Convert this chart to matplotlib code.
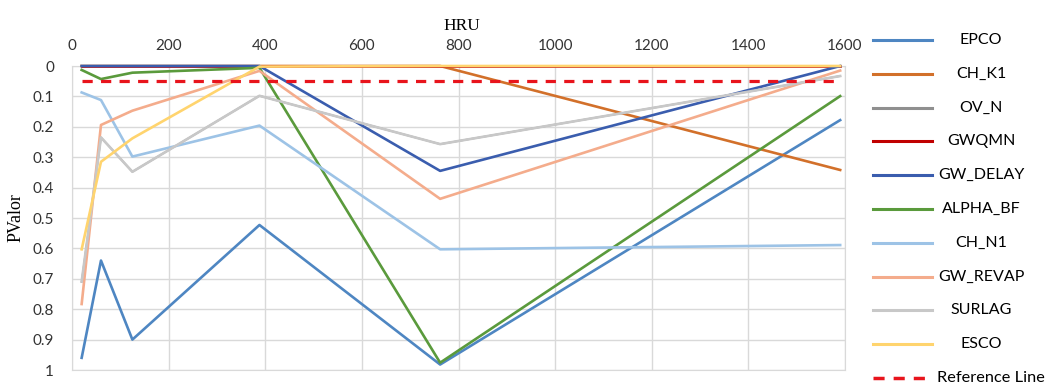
import matplotlib
matplotlib.use("Agg")
import matplotlib.pyplot as plt
from matplotlib.lines import Line2D

# HRU values on the x axis
hru = [20, 60, 125, 388, 762, 1590]

names = ["EPCO", "CH_K1", "OV_N", "GWQMN", "GW_DELAY", "ALPHA_BF",
         "CH_N1", "GW_REVAP", "SURLAG", "ESCO"]

epco = [0.96, 0.64, 0.90, 0.523, 0.982, 0.178]
ch_k1 = [0.0, 0.0, 0.0, 0.0, 0.0, 0.342]
ov_n = [0.71, 0.235, 0.348, 0.098, 0.257, 0.033]
gwqmn = [0.0, 0.0, 0.0, 0.0, 0.0, 0.0]
gw_delay = [0.0, 0.0, 0.0, 0.0, 0.345, 0.0]
alpha_bf = [0.013, 0.043, 0.022, 0.006, 0.976, 0.099]
ch_n1 = [0.087, 0.112, 0.298, 0.196, 0.603, 0.589]
gw_revap = [0.783, 0.194, 0.147, 0.016, 0.437, 0.015]
surlag = [0.709, 0.235, 0.348, 0.098, 0.257, 0.033]
esco = [0.603, 0.315, 0.238, 0.002, 0.0, 0.0]
ref_line = [0.05, 0.05, 0.05, 0.05, 0.05, 0.05]

series = [epco, ch_k1, ov_n, gwqmn, gw_delay, alpha_bf, ch_n1, gw_revap, surlag, esco]
colors = ["#4E86C2", "#D2702A", "#8F8F8F", "#C00000", "#3A5DAE", "#5A9A3C",
          "#9DC3E6", "#F4AC8C", "#C8C8C8", "#FFD46E"]
widths = [1.9, 1.9, 1.3, 1.9, 1.9, 1.9, 1.9, 1.9, 1.9, 1.9]

fig = plt.figure(figsize=(10.5, 3.88), dpi=100)
ax = fig.add_axes([72 / 1050, 1 - 370 / 388, 773 / 1050, 304 / 388])

for vals, c, w in zip(series, colors, widths):
    ax.plot(hru, vals, color=c, lw=w, clip_on=False, zorder=3)
ax.plot(hru, ref_line, color="#E8141C", lw=2.3, dashes=(3.2, 2.6), zorder=4)

ax.set_xlim(0, 1600)
ax.set_ylim(1, 0)
ax.set_xticks(range(0, 1601, 200))
yt = [i / 10 for i in range(11)]
ax.set_yticks(yt)
ax.set_yticklabels(["0"] + [f"{v:.1f}" for v in yt[1:-1]] + ["1"])

ax.xaxis.tick_top()
ax.xaxis.set_label_position("top")
ax.tick_params(length=0, labelsize=11, labelcolor="#333333")
ax.tick_params(axis="x", pad=9)
ax.tick_params(axis="y", pad=13)
for t in ax.get_xticklabels() + ax.get_yticklabels():
    t.set_family("Lato")

ax.grid(True, color="#D9D9D9", lw=1)
for s in ax.spines.values():
    s.set_color("#D9D9D9")
ax.set_axisbelow(True)

ax.set_xlabel("HRU", family="Liberation Serif", fontsize=12.5)
ax.xaxis.set_label_coords(0.505, 1.118)
ax.set_ylabel("PValor", family="Liberation Serif", fontsize=13)
ax.yaxis.set_label_coords(-0.062, 0.5)

# legend drawn at the right like the original
y0 = 40
step = 33.8
for i, (n, c) in enumerate(zip(names, colors)):
    yy = 1 - (y0 + i * step) / 388
    fig.add_artist(Line2D([873 / 1050, 932 / 1050], [yy, yy], color=c, lw=2.2))
    fig.text(981 / 1050, yy, n, ha="center", va="center", family="Lato", fontsize=11.5)
yy = 1 - (y0 + 10 * step) / 388
fig.add_artist(Line2D([873 / 1050, 926 / 1050], [yy, yy], color="#E8141C", lw=2.5,
                      dashes=(3.2, 2.6)))
fig.text(937 / 1050, yy, "Reference Line", ha="left", va="center", family="Lato", fontsize=11.8)

fig.savefig("out.png", dpi=100)
